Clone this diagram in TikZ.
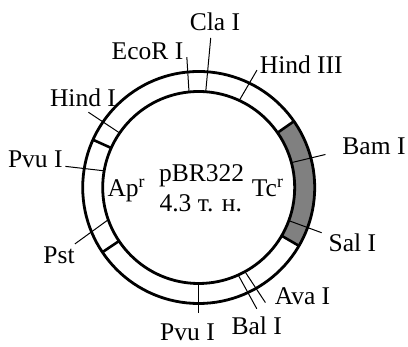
\documentclass[tikz,border=0pt]{standalone}
\usepackage{fontspec}
\setmainfont{Liberation Serif}

\begin{document}
\begin{tikzpicture}[
    x=1pt, y=1pt,
    ring/.style={line width=2.8pt},
    site/.style={line width=1pt},
    border/.style={line width=2.6pt},
    lab/.style={font=\fontsize{25.5}{30}\selectfont, inner sep=0pt, anchor=base},
    tcfill/.style={fill=black!50}
]
\useasboundingbox (0,0) rectangle (408,347);

\begin{scope}[shift={(198.7,159.5)}]
% Tc^r region
\fill[tcfill] (-30.2:96) arc[start angle=-30.2, end angle=34.8, radius=96pt]
    -- (34.8:116) arc[start angle=34.8, end angle=-30.2, radius=116pt] -- cycle;

% ring
\draw[ring] (0,0) circle[radius=116pt];
\draw[ring] (0,0) circle[radius=96pt];

% gene borders
\draw[border] (155.7:96) -- (155.7:116);
\draw[border] (213.9:96) -- (213.9:116);
\draw[border] (34.8:96) -- (34.8:116);
\draw[border] (-30.2:96) -- (-30.2:116);

% restriction sites
\coordinate (ecoRI-a)   at (95.8:96);   \coordinate (ecoRI-b)   at (95.2:131);
\coordinate (claI-a)    at (85.8:96);   \coordinate (claI-b)    at (85.4:150);
\coordinate (hindIII-a) at (65:96);     \coordinate (hindIII-b) at (63.6:131);
\coordinate (hindI-a)   at (145.4:96);  \coordinate (hindI-b)   at (145.7:133.5);
\coordinate (pvuIa-a)   at (170:96);    \coordinate (pvuIa-b)   at (171:135);
\coordinate (pst-a)     at (199.6:96);  \coordinate (pst-b)     at (204.5:136);
\coordinate (bamI-a)    at (15:96);     \coordinate (bamI-b)    at (14.6:131);
\coordinate (salI-a)    at (-20.2:96);  \coordinate (salI-b)    at (-20.2:131);
\coordinate (avaI-a)    at (-61.2:96);  \coordinate (avaI-b)    at (-59.9:133);
\coordinate (balI-a)    at (-65.7:96);  \coordinate (balI-b)    at (-64.4:134.5);
\coordinate (pvuIb-a)   at (270:96);    \coordinate (pvuIb-b)   at (270:126);
\end{scope}

\draw[site] (ecoRI-a) -- (ecoRI-b);
\draw[site] (claI-a) -- (claI-b);
\draw[site] (hindIII-a) -- (hindIII-b);
\draw[site] (hindI-a) -- (hindI-b);
\draw[site] (pvuIa-a) -- (pvuIa-b);
\draw[site] (pst-a) -- (pst-b);
\draw[site] (bamI-a) -- (bamI-b);
\draw[site] (salI-a) -- (salI-b);
\draw[site] (avaI-a) -- (avaI-b);
\draw[site] (balI-a) -- (balI-b);
\draw[site] (pvuIb-a) -- (pvuIb-b);

% labels
\node[lab] (claI)    at (215,316.3)   {Cla I};
\node[lab] (ecoRI)   at (147.5,287)   {EcoR I};
\node[lab] (hindIII) at (301.3,273.7) {Hind III};
\node[lab] (hindI)   at (83,240.3)    {Hind I};
\node[lab] (pvuIa)   at (35.3,179.7)  {Pvu I};
\node[lab] (pst)     at (59,83.7)     {Pst};
\node[lab] (bamI)    at (374,192)     {Bam I};
\node[lab] (salI)    at (352.3,95.3)  {Sal I};
\node[lab] (avaI)    at (302.5,42)    {Ava I};
\node[lab] (balI)    at (256.7,12)    {Bal I};
\node[lab] (pvuIb)   at (187.5,6.5)   {Pvu I};

\node[lab, anchor=base west] (apr) at (107.3,150.3) {Ap\textsuperscript{r}};
\node[lab, anchor=base west] (tcr) at (251.7,150.3) {Tc\textsuperscript{r}};
\node[lab] (name) at (201.7,165.3) {pBR322};
\node[lab] (size) at (200.8,135.3) {4.3 т. н.};

\end{tikzpicture}
\end{document}
